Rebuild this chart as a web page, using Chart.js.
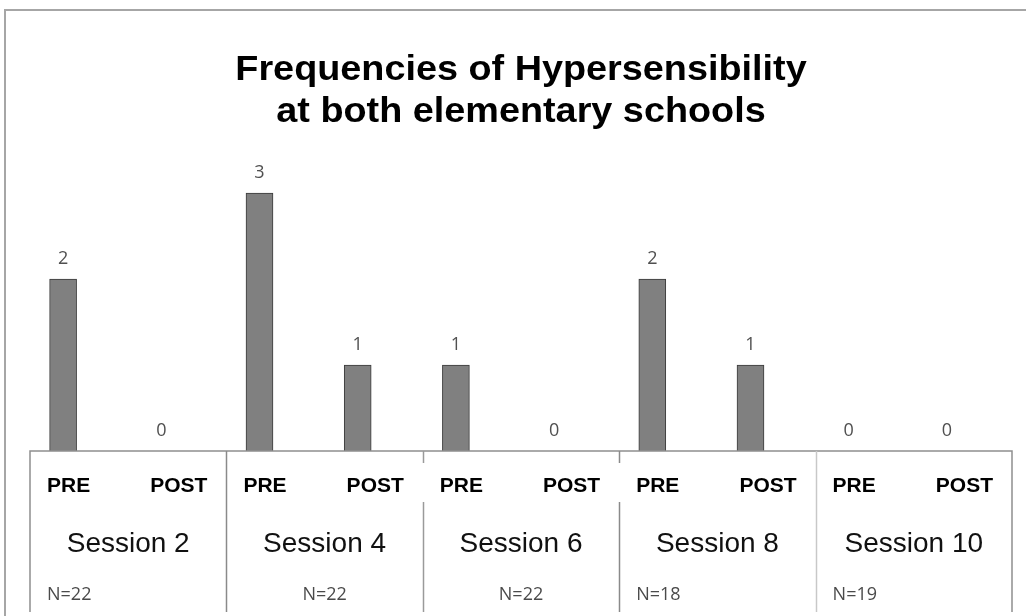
<!DOCTYPE html>
<html><head><meta charset="utf-8">
<script src="https://cdn.jsdelivr.net/npm/chart.js@4/dist/chart.umd.min.js"></script>
<style>html,body{margin:0;padding:0;background:#fff}canvas{display:block}</style>
</head><body>
<canvas id="c" width="1026" height="616"></canvas>
<script>
const titleLines = ['Frequencies of Hypersensibility', 'at both elementary schools'];
const categories = ['PRE','POST','PRE','POST','PRE','POST','PRE','POST','PRE','POST'];
const sessions = ['Session 2','Session 4','Session 6','Session 8','Session 10'];
const sampleSizes = ['N=22','N=22','N=22','N=18','N=19'];
const frequencies = [2, 0, 3, 1, 1, 0, 2, 1, 0, 0];

const decor = {
  id: 'decor',
  afterDraw(chart, args, opts) {
    const ctx = chart.ctx, a = chart.chartArea;
    const meta = chart.getDatasetMeta(0);
    ctx.save();
    // outer frame
    ctx.strokeStyle = '#a6a6a6'; ctx.lineWidth = 2;
    ctx.beginPath(); ctx.moveTo(5, 616); ctx.lineTo(5, 10); ctx.lineTo(1026, 10); ctx.stroke();

    // value labels
    ctx.font = '18px "Open Sans"'; ctx.fillStyle = '#505050';
    ctx.textAlign = 'center'; ctx.textBaseline = 'alphabetic';
    meta.data.forEach((bar, i) => ctx.fillText(String(chart.data.datasets[0].data[i]), bar.x, bar.y - 15));

    // table
    const left = a.left + opts.shift, right = a.right + opts.shift, top = a.bottom, bottom = opts.tableBottom;
    const sw = (right - left) / sessions.length;
    ctx.lineWidth = 1.5; ctx.strokeStyle = '#8f8f8f';
    ctx.beginPath(); ctx.moveTo(left, bottom); ctx.lineTo(left, top); ctx.lineTo(right, top); ctx.lineTo(right, bottom); ctx.stroke();
    for (let s = 1; s < sessions.length; s++) {
      const x = Math.round(left + s * sw) + 0.5;
      ctx.strokeStyle = opts.sepColors[s - 1];
      ctx.beginPath();
      if (opts.sepGaps[s - 1]) {
        ctx.moveTo(x, top); ctx.lineTo(x, top + 12);
        ctx.moveTo(x, top + 51); ctx.lineTo(x, bottom);
      } else {
        ctx.moveTo(x, top); ctx.lineTo(x, bottom);
      }
      ctx.stroke();
    }
    for (let s = 0; s < sessions.length; s++) {
      const x0 = left + s * sw;
      // PRE / POST
      ctx.fillStyle = '#000'; ctx.font = 'bold 21px "Liberation Sans"';
      ctx.textAlign = 'left'; ctx.fillText(categories[2 * s], x0 + 17, top + 41);
      ctx.textAlign = 'right'; ctx.fillText(categories[2 * s + 1], x0 + sw - 19, top + 41);
      // session
      ctx.font = '28px "Liberation Sans"'; ctx.textAlign = 'center'; ctx.fillStyle = '#111';
      ctx.fillText(sessions[s], x0 + sw / 2, top + 101);
      // sample size
      ctx.font = '18px "Open Sans"'; ctx.fillStyle = '#4a4a4a';
      const al = opts.nAlign[s];
      ctx.textAlign = al;
      ctx.fillText(sampleSizes[s], al === 'center' ? x0 + sw / 2 : x0 + 17, top + 149);
    }
    // title
    ctx.fillStyle = '#000'; ctx.font = 'bold 35px "Liberation Sans"'; ctx.textAlign = 'center';
    const cx = (left + right) / 2;
    titleLines.forEach((t, i) => {
      ctx.save(); ctx.translate(cx, 80 + i * 42); ctx.scale(1.08, 1); ctx.fillText(t, 0, 0); ctx.restore();
    });
    ctx.restore();
  }
};

new Chart(document.getElementById('c'), {
  type: 'bar',
  data: {
    labels: categories,
    datasets: [{
      data: frequencies,
      backgroundColor: '#808080',
      borderColor: '#3a3a3a',
      borderWidth: 1,
      borderSkipped: 'bottom',
      barThickness: 27
    }]
  },
  options: {
    responsive: false,
    animation: false,
    layout: { padding: { left: 14, right: 30, top: 150, bottom: 165 } },
    scales: {
      x: { display: false },
      y: { display: false, min: 0, max: 3.5 }
    },
    plugins: {
      legend: { display: false },
      title: { display: false },
      tooltip: { enabled: false },
      decor: {
        shift: 16,
        tableBottom: 612,
        sepColors: ['#8a8a8a', '#9a9a9a', '#8a8a8a', '#c8c8c8'],
        sepGaps: [false, true, true, false],
        nAlign: ['left', 'center', 'center', 'left', 'left']
      }
    }
  },
  plugins: [decor]
});
</script>
</body></html>
